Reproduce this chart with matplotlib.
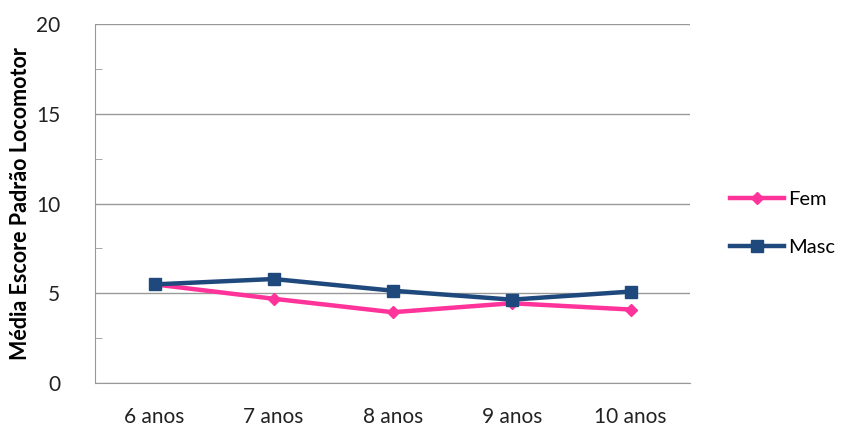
import matplotlib.pyplot as plt

# Escore padrão locomotor por idade e sexo
idades = ['6 anos', '7 anos', '8 anos', '9 anos', '10 anos']
fem = [5.5, 4.7, 3.95, 4.45, 4.1]
masc = [5.5, 5.8, 5.15, 4.65, 5.1]

plt.rcParams['font.family'] = ['Lato', 'DejaVu Sans']

fig = plt.figure(figsize=(8.49, 4.3), dpi=100)
ax = fig.add_axes([0.112, 0.109, 0.701, 0.835])

x = range(len(idades))
ax.plot(x, fem, color='#FF3399', lw=3.2, marker='D', ms=6, label='Fem', zorder=3)
ax.plot(x, masc, color='#1F497D', lw=3.2, marker='s', ms=8.5, label='Masc', zorder=4)

ax.set_xlim(-0.5, 4.5)
ax.set_ylim(0, 20)
ax.set_yticks([0, 5, 10, 15, 20])
ax.set_yticks([2.5, 7.5, 12.5, 17.5], minor=True)
ax.set_xticks(list(x))
ax.set_xticklabels(idades)
ax.tick_params(axis='x', length=0, labelsize=15, pad=17, colors='#222222')
ax.tick_params(axis='y', which='major', length=0, labelsize=15, pad=25, colors='#222222')
ax.tick_params(axis='y', which='minor', direction='in', length=5, color='#999999')
ax.grid(axis='y', which='major', color='#999999', lw=1)

for side in ['top', 'right']:
    ax.spines[side].set_visible(False)
for side in ['left', 'bottom']:
    ax.spines[side].set_color('#999999')

ax.set_ylabel('Média Escore Padrão Locomotor', fontsize=15.5, fontweight='bold', labelpad=4)

fig.legend(loc='center left', bbox_to_anchor=(0.838, 0.48), frameon=False,
           fontsize=14.5, labelspacing=1.5, handlelength=2.7, handletextpad=0.2)

fig.savefig('out.png', dpi=100)
